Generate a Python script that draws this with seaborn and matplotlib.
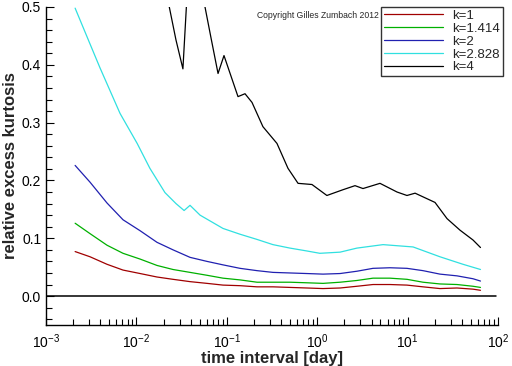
"""
Relative excess kurtosis vs time interval
"""

import numpy as np
import pandas as pd
import matplotlib
matplotlib.use('Agg')
import matplotlib.pyplot as plt
import matplotlib.ticker as mticker
import seaborn as sns

# time intervals (days) shared by k=1, k=1.414, k=2
t_days = [0.00210, 0.00307, 0.00473, 0.00711, 0.0110, 0.0169, 0.0254, 0.0392, 0.0604, 0.0908,
          0.140, 0.216, 0.324, 0.500, 0.771, 1.16, 1.79, 2.75, 4.14, 6.38,
          9.84, 14.8, 22.8, 35.2, 52.9, 64.0]

kurt_k1 = [0.077, 0.068, 0.055, 0.045, 0.039, 0.033, 0.029, 0.025, 0.022, 0.019,
           0.018, 0.016, 0.016, 0.015, 0.014, 0.013, 0.014, 0.017, 0.020, 0.020,
           0.019, 0.016, 0.013, 0.014, 0.012, 0.010]
kurt_k1414 = [0.126, 0.108, 0.088, 0.074, 0.064, 0.053, 0.046, 0.041, 0.036, 0.031,
              0.028, 0.024, 0.024, 0.024, 0.023, 0.022, 0.024, 0.027, 0.031, 0.031,
              0.029, 0.024, 0.021, 0.020, 0.017, 0.015]
kurt_k2 = [0.226, 0.197, 0.161, 0.132, 0.113, 0.093, 0.080, 0.067, 0.060, 0.054,
           0.048, 0.044, 0.041, 0.040, 0.039, 0.038, 0.039, 0.043, 0.048, 0.049,
           0.048, 0.044, 0.038, 0.035, 0.030, 0.026]

t_k2828 = [0.00210, 0.00307, 0.00395, 0.00659, 0.0102, 0.0141, 0.0207, 0.0274, 0.0337, 0.0392,
           0.0506, 0.0908, 0.140, 0.216, 0.324, 0.500, 0.771, 1.07, 1.79, 2.75,
           5.35, 11.5, 22.8, 41.0, 64.0]
kurt_k2828 = [0.498, 0.436, 0.395, 0.316, 0.264, 0.221, 0.179, 0.160, 0.148, 0.157,
              0.140, 0.117, 0.107, 0.098, 0.089, 0.083, 0.078, 0.074, 0.076, 0.083,
              0.089, 0.085, 0.068, 0.055, 0.046]

# k=4 runs off the top of the plot at short intervals
t_k4 = [0.00210, 0.00849, 0.0182, 0.0274, 0.0327, 0.0363, 0.0456, 0.0574, 0.0668, 0.0800,
        0.0931, 0.133, 0.159, 0.190, 0.251, 0.359, 0.475, 0.614, 0.875, 1.28,
        1.93, 2.62, 3.21, 4.95, 7.64, 9.84, 12.1, 20.1, 27.3, 38.0,
        52.9, 64.0]
kurt_k4 = [1.30, 0.80, 0.58, 0.443, 0.393, 0.52, 0.62, 0.50, 0.447, 0.385,
           0.416, 0.345, 0.350, 0.335, 0.293, 0.264, 0.221, 0.195, 0.193, 0.174,
           0.184, 0.191, 0.186, 0.195, 0.180, 0.174, 0.178, 0.162, 0.134, 0.114,
           0.097, 0.084]

labels = ['k=1', 'k=1.414', 'k=2', 'k=2.828', 'k=4']
colors = ['#a00000', '#00b000', '#2020b0', '#30e0e0', '#000000']

frames = []
for lab, t, v in zip(labels, [t_days, t_days, t_days, t_k2828, t_k4],
                     [kurt_k1, kurt_k1414, kurt_k2, kurt_k2828, kurt_k4]):
    frames.append(pd.DataFrame({'t': t, 'kurt': v, 'k': lab}))
df = pd.concat(frames)

sns.set_style('ticks')
plt.rcParams['font.family'] = ['Liberation Sans', 'DejaVu Sans']
plt.rcParams['mathtext.fontset'] = 'custom'
plt.rcParams['mathtext.rm'] = 'Liberation Sans'
plt.rcParams['mathtext.it'] = 'Liberation Sans'

fig = plt.figure(figsize=(5.12, 3.66), dpi=100)
ax = fig.add_axes([46 / 512, 1 - 325 / 366, 452 / 512, 318 / 366])

sns.lineplot(data=df, x='t', y='kurt', hue='k', hue_order=labels, palette=colors,
             estimator=None, sort=False, linewidth=0.9, ax=ax, legend=False)
ax.axhline(0, color='black', linewidth=1.1, xmax=0.995)

ax.set_xscale('log')
ax.set_xlim(1e-3, 1e2)
ax.set_ylim(-0.05, 0.5)
ax.yaxis.set_major_locator(mticker.MultipleLocator(0.1))
ax.yaxis.set_minor_locator(mticker.MultipleLocator(0.02))
ax.yaxis.set_major_formatter(mticker.FormatStrFormatter('%.1f'))
ax.xaxis.set_major_locator(mticker.LogLocator(base=10))
ax.xaxis.set_minor_locator(mticker.LogLocator(base=10, subs=np.arange(2, 10)))
ax.xaxis.set_minor_formatter(mticker.NullFormatter())

ax.tick_params(which='both', direction='in', labelsize=10, color='black', labelcolor='black')
ax.tick_params(which='major', length=6, width=0.8)
ax.tick_params(which='minor', length=4, width=0.8)
ax.tick_params(axis='x', pad=5)
sns.despine(ax=ax)
for s in ['left', 'bottom']:
    ax.spines[s].set_color('black')
    ax.spines[s].set_linewidth(1.0)

ax.set_xlabel('time interval [day]', fontsize=12, fontweight='bold', labelpad=0)
ax.set_ylabel('relative excess kurtosis', fontsize=12, fontweight='bold', labelpad=3)

handles = [plt.Line2D([], [], color=c, linewidth=0.9) for c in colors]
leg = ax.legend(handles, labels, loc='upper right', bbox_to_anchor=(1.01, 1.0), fontsize=9.5,
                frameon=True, fancybox=False, handlelength=4.5, handletextpad=0.7,
                labelspacing=0.05, borderpad=0.2, borderaxespad=0)
leg.get_frame().set_edgecolor('black')
leg.get_frame().set_linewidth(1.0)

fig.text(257 / 512, 1 - 16 / 366, 'Copyright Gilles Zumbach 2012', fontsize=6.2, va='center')

plt.savefig('out.png', dpi=100)
